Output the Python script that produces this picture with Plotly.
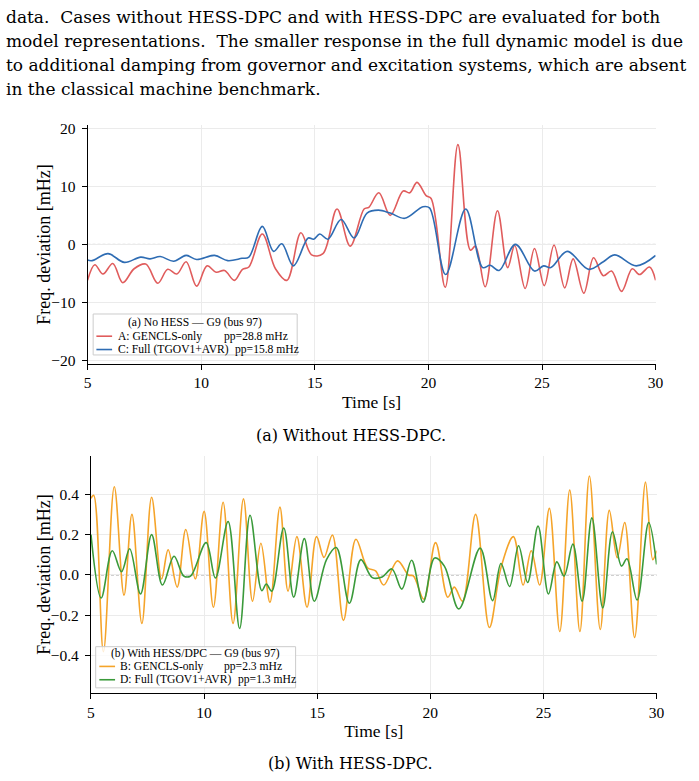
import plotly.graph_objects as go

# ---------------- data ----------------
t_A = [5.0, 5.32, 5.68, 6.11, 6.55, 7.05, 7.56, 8.09, 8.53, 8.93, 9.34, 9.8, 10.26, 10.66, 11.03,
       11.46, 11.82, 12.1, 12.69, 13.27, 13.77, 14.39, 14.86, 15.36, 15.98, 16.56, 17.17, 17.38,
       17.82, 18.32, 18.89, 19.18, 19.5, 19.9, 20.12, 20.74, 21.3, 21.85, 22.07, 22.5, 23.04,
       23.49, 23.8, 24.26, 24.67, 25.1, 25.53, 26.0, 26.37, 26.84, 27.27, 27.7, 28.06, 28.5,
       28.97, 29.29, 29.73, 30.0]
v_A = [-6.2, -3.5, -5.1, -3.3, -6.6, -4.2, -3.4, -6.7, -4.3, -5.1, -3.0, -7.2, -3.7, -4.8, -4.5,
       -6.2, -4.3, -3.9, 1.8, -4.2, -6.2, 2.0, -1.8, -1.6, 6.1, -0.3, 6.1, 6.4,
       8.9, 5.0, 9.2, 8.9, 10.7, 8.4, 7.9, -7.4, 17.2, -1.0, -0.3, -7.3, 5.8,
       -4.0, -0.2, -7.6, -0.7, -7.1, -0.1, -7.5, -2.5, -8.4, -2.3, -5.4, -4.6, -8.1,
       -4.2, -5.2, -3.9, -6.2]

t_C = [5.0, 5.2, 5.9, 6.62, 7.34, 7.75, 8.2, 8.79, 9.34, 9.8, 10.59, 11.17, 11.8, 12.1, 12.69,
       13.19, 13.55, 14.06, 14.71, 14.95, 15.22, 15.58, 16.16, 16.73, 17.3, 17.8, 18.32, 18.96,
       19.76, 20.05, 20.76, 21.64, 22.39, 22.72, 23.11, 23.83, 24.67, 25.07, 25.39, 26.11,
       27.05, 27.7, 28.2, 29.15, 30.0]
v_C = [-2.7, -2.8, -1.6, -3.1, -2.2, -2.5, -2.1, -2.9, -1.9, -2.6, -1.9, -2.8, -2.4, -2.2, 3.1,
       -1.2, 0.1, -3.7, 1.1, 0.9, 1.8, 0.9, 4.3, 1.1, 5.4, 5.9, 5.4, 4.5,
       6.5, 6.3, -5.2, 6.1, -4.0, -3.6, -4.5, 0.0, -4.6, -3.7, -4.0, -1.2,
       -4.3, -3.0, -1.8, -3.7, -1.9]

t_B = [5.0, 5.12, 5.55, 6.03, 6.46, 6.81, 7.25, 7.68, 8.12, 8.41, 8.81, 9.19, 9.61, 10.0, 10.41,
       10.84, 11.28, 11.74, 12.14, 12.51, 12.91, 13.35, 13.71, 14.1, 14.55, 14.97, 15.3, 15.67,
       16.16, 16.71, 17.22, 17.58, 17.94, 18.55, 19.03, 19.25, 19.71, 20.23, 20.77, 21.06,
       21.42, 22.0, 22.61, 23.13, 23.67, 24.1, 24.46, 24.83, 25.26, 25.72, 26.16, 26.61,
       27.03, 27.51, 27.91, 28.26, 28.59, 29.03, 29.51, 29.83, 30.0]
v_B = [0.38, 0.395, -0.38, 0.437, -0.10, 0.30, -0.24, 0.385, -0.02, 0.125, -0.06, 0.225, -0.02,
       0.315, -0.16, 0.36, -0.24, 0.377, -0.13, 0.157, -0.135, 0.336, -0.08, 0.19, -0.16, 0.19,
       0.087, 0.198, -0.225, 0.177, 0.036, 0.02, -0.05, 0.07, 0.0, -0.005, -0.12, 0.16, -0.11,
       -0.06, -0.13, 0.30, -0.26, 0.04, 0.19, -0.05, 0.12, -0.05, 0.33, -0.28, 0.42, -0.28,
       0.49, -0.27, 0.32, 0.085, 0.26, -0.31, 0.46, 0.076, 0.12]

t_D = [5.0, 5.45, 5.94, 6.35, 6.71, 7.19, 7.68, 8.16, 8.67, 9.1, 9.4, 10.09, 10.5, 11.06, 11.57,
       12.03, 12.55, 12.75, 12.99, 13.52, 13.96, 14.43, 14.87, 15.41, 15.84, 16.42, 16.93,
       17.43, 17.87, 18.3, 18.74, 19.17, 19.68, 20.19, 20.62, 21.26, 22.2, 22.75, 23.12, 23.5,
       23.9, 24.3, 24.76, 25.22, 25.59, 25.91, 26.3, 26.71, 27.14, 27.62, 28.05, 28.45, 28.69,
       29.14, 29.65, 30.0]
v_D = [0.2, -0.114, 0.12, 0.016, 0.13, -0.094, 0.2, -0.05, 0.093, -0.005, -0.005, 0.16, -0.015,
       0.265, -0.265, 0.296, -0.078, -0.045, -0.08, 0.233, -0.11, 0.18, -0.13, 0.076, 0.136,
       -0.14, 0.076, -0.013, -0.01, 0.03, -0.07, 0.073, -0.135, 0.084, 0.044, -0.168, 0.133,
       -0.127, 0.057, -0.057, 0.145, -0.037, 0.242, -0.094, 0.065, -0.005, 0.153, -0.13, 0.283,
       -0.163, 0.214, 0.044, 0.08, -0.124, 0.26, 0.052]

names_top = ["A: GENCLS-only", "C: Full (TGOV1+AVR)"]
pp_top = ["pp=28.8 mHz", "pp=15.8 mHz"]
names_bot = ["B: GENCLS-only", "D: Full (TGOV1+AVR)"]
pp_bot = ["pp=2.3 mHz", "pp=1.3 mHz"]
legend_titles = ["(a) No HESS \u2014 G9 (bus 97)", "(b) With HESS/DPC \u2014 G9 (bus 97)"]
captions = ["(a) Without HESS-DPC.", "(b) With HESS-DPC."]
y_title = "Freq. deviation [mHz]"
x_title = "Time [s]"
paragraph = [
    "data.  Cases without HESS-DPC and with HESS-DPC are evaluated for both",
    "model representations.  The smaller response in the full dynamic model is due",
    "to additional damping from governor and excitation systems, which are absent",
    "in the classical machine benchmark.",
]
x_ticks = [5, 10, 15, 20, 25, 30]
y_ticks_top = [-20, -10, 0, 10, 20]
y_ticks_bot = [-0.4, -0.2, 0.0, 0.2, 0.4]

COL_A = "#e05c5c"
COL_C = "#2e6cb3"
COL_B = "#f5a42a"
COL_D = "#3a9a3a"

W, H = 699, 781
FONT = "Liberation Serif"
TEXT_FONT = "DejaVu Serif"


def px(x):
    return x / W


def py(y):
    return 1 - y / H


fig = go.Figure()
lw = 1.6
fig.add_trace(go.Scatter(x=t_A, y=v_A, mode="lines", line=dict(color=COL_A, width=lw, shape="spline"),
                         name=names_top[0], xaxis="x", yaxis="y", showlegend=False))
fig.add_trace(go.Scatter(x=t_C, y=v_C, mode="lines", line=dict(color=COL_C, width=lw, shape="spline"),
                         name=names_top[1], xaxis="x", yaxis="y", showlegend=False))
fig.add_trace(go.Scatter(x=t_B, y=v_B, mode="lines", line=dict(color=COL_B, width=lw, shape="spline"),
                         name=names_bot[0], xaxis="x2", yaxis="y2", showlegend=False))
fig.add_trace(go.Scatter(x=t_D, y=v_D, mode="lines", line=dict(color=COL_D, width=lw, shape="spline"),
                         name=names_bot[1], xaxis="x2", yaxis="y2", showlegend=False))

axis_common = dict(
    showline=True, linecolor="black", linewidth=1, mirror=False,
    ticks="outside", ticklen=5, tickwidth=1, tickcolor="black",
    showgrid=True, gridcolor="#ebebeb", gridwidth=1, zeroline=False,
    tickfont=dict(family=FONT, size=15.5, color="black"),
)
ytitle_font = dict(family=FONT, size=18, color="black")
xtitle_font = dict(family=FONT, size=17.5, color="black")

top_dom = [py(363.3), py(121.7)]
bot_dom = [py(697), py(456.7)]

fig.update_layout(
    width=W, height=H,
    margin=dict(l=0, r=0, t=0, b=0),
    paper_bgcolor="white", plot_bgcolor="white",
    showlegend=False,
    xaxis=dict(domain=[px(85), px(663)], range=[5, 30], tickvals=x_ticks, anchor="y",
               title=dict(text=x_title, font=xtitle_font, standoff=5),
               **axis_common),
    yaxis=dict(domain=top_dom, range=[-20.56, 20.56], tickvals=y_ticks_top, anchor="x",
               ticklabelstandoff=3, **axis_common),
    xaxis2=dict(domain=[px(88.5), px(664)], range=[5, 30], tickvals=x_ticks, anchor="y2",
                title=dict(text=x_title, font=xtitle_font, standoff=5),
                **axis_common),
    yaxis2=dict(domain=bot_dom, range=[-0.585, 0.59], tickvals=y_ticks_bot, tickformat=".1f",
                anchor="x2", ticklabelstandoff=3, **axis_common),
)

# zero reference lines
for xr, yr in (("x domain", "y"), ("x2 domain", "y2")):
    fig.add_shape(type="line", xref=xr, yref=yr, x0=0, x1=1, y0=0, y1=0,
                  line=dict(color="#9a9a9a", width=1, dash="3px,2px"), layer="below")

annotations = []
# y-axis titles (rotated)
for dom in (top_dom, bot_dom):
    annotations.append(dict(text=y_title, xref="paper", yref="paper", x=px(41), y=(dom[0] + dom[1]) / 2,
                            xanchor="center", yanchor="middle", textangle=-90, showarrow=False,
                            font=ytitle_font))
# paragraph text
for i, line in enumerate(paragraph):
    annotations.append(dict(text=line, xref="paper", yref="paper", x=px(0), y=py(12.5 + 24.3 * i),
                            xanchor="left", yanchor="middle", showarrow=False,
                            font=dict(family=TEXT_FONT, size=17, color="black")))
# captions
for cap, yc in zip(captions, (436, 768)):
    annotations.append(dict(text=cap, xref="paper", yref="paper", x=px(353), y=py(yc),
                            xanchor="center", yanchor="middle", showarrow=False,
                            font=dict(family=TEXT_FONT, size=16, color="black")))

# manual legends
LEG_FS = 11.6
legends = [
    dict(box=(90.7, 313, 298.3, 354.5), title=legend_titles[0], ty=322, rows=(335.5, 349),
         names=names_top, pps=pp_top, cols=(COL_A, COL_C), line_x=(94, 110), text_x=113.5,
         pp_x=(221.7, 232.7)),
    dict(box=(93.3, 650, 296.7, 691.7), title=legend_titles[1], ty=657, rows=(670, 683.5),
         names=names_bot, pps=pp_bot, cols=(COL_B, COL_D), line_x=(97, 113), text_x=115.5,
         pp_x=(221.7, 236)),
]
for lg in legends:
    x0, y0, x1, y1 = lg["box"]
    fig.add_shape(type="rect", xref="paper", yref="paper", x0=px(x0), x1=px(x1), y0=py(y0), y1=py(y1),
                  fillcolor="rgba(255,255,255,0.8)", line=dict(color="#cccccc", width=1), layer="above")
    annotations.append(dict(text=lg["title"], xref="paper", yref="paper", x=px((x0 + x1) / 2), y=py(lg["ty"]),
                            xanchor="center", yanchor="middle", showarrow=False,
                            font=dict(family=FONT, size=LEG_FS, color="black")))
    for nm, pp, col, ry, ppx in zip(lg["names"], lg["pps"], lg["cols"], lg["rows"], lg["pp_x"]):
        fig.add_shape(type="line", xref="paper", yref="paper", x0=px(lg["line_x"][0]), x1=px(lg["line_x"][1]),
                      y0=py(ry), y1=py(ry), line=dict(color=col, width=1.6), layer="above")
        annotations.append(dict(text=nm, xref="paper", yref="paper", x=px(lg["text_x"]), y=py(ry),
                                xanchor="left", yanchor="middle", showarrow=False,
                                font=dict(family=FONT, size=LEG_FS, color="black")))
        annotations.append(dict(text=pp, xref="paper", yref="paper", x=px(ppx), y=py(ry),
                                xanchor="left", yanchor="middle", showarrow=False,
                                font=dict(family=FONT, size=LEG_FS, color="black")))

fig.update_layout(annotations=annotations)
fig.write_html("out.html")
